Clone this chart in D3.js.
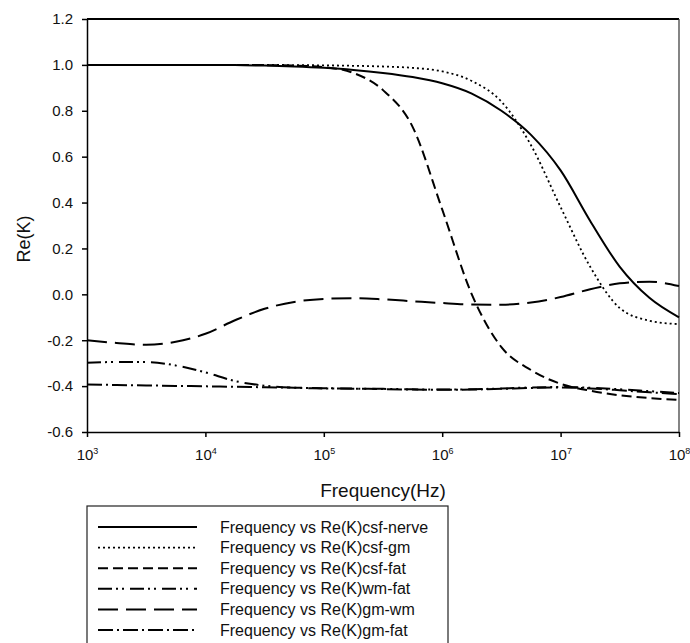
<!DOCTYPE html>
<html>
<head>
<meta charset="utf-8">
<script src="https://cdn.jsdelivr.net/npm/d3@7"></script>
<style>
  body { margin: 0; background: #fff; }
  svg { font-family: "Liberation Sans", Arial, sans-serif; }
  .axis path, .axis line { stroke: #000; stroke-width: 1.5; }
  .curve { fill: none; stroke: #000; }
</style>
</head>
<body>
<script>
// log10 of frequency (Hz) where each curve was read
const logFreq = [3, 3.25, 3.5, 3.75, 4, 4.25, 4.5, 4.75, 5, 5.25, 5.5, 5.75, 6, 6.25, 6.5, 6.75, 7, 7.25, 7.5, 7.75, 8];

const csfNerve = [1.0, 1.0, 1.0, 1.0, 1.0, 0.999, 0.997, 0.993, 0.987, 0.978, 0.965, 0.947, 0.92, 0.875, 0.80, 0.695, 0.54, 0.32, 0.12, -0.015, -0.10];
const csfGm    = [1.0, 1.0, 1.0, 1.0, 1.0, 1.0, 1.0, 0.999, 0.998, 0.996, 0.993, 0.987, 0.972, 0.93, 0.84, 0.65, 0.38, 0.12, -0.06, -0.115, -0.13];
const csfFat   = [1.0, 1.0, 1.0, 1.0, 1.0, 1.0, 0.999, 0.997, 0.99, 0.965, 0.89, 0.73, 0.37, 0.0, -0.23, -0.33, -0.39, -0.42, -0.44, -0.452, -0.46];
const wmFat    = [-0.298, -0.295, -0.295, -0.31, -0.34, -0.378, -0.398, -0.407, -0.41, -0.411, -0.412, -0.414, -0.415, -0.414, -0.41, -0.406, -0.404, -0.407, -0.414, -0.422, -0.43];
const gmWm     = [-0.20, -0.212, -0.22, -0.207, -0.172, -0.113, -0.063, -0.033, -0.02, -0.017, -0.022, -0.03, -0.038, -0.044, -0.045, -0.036, -0.012, 0.022, 0.048, 0.055, 0.036];
const gmFat    = [-0.393, -0.395, -0.397, -0.399, -0.401, -0.403, -0.405, -0.407, -0.409, -0.411, -0.413, -0.415, -0.416, -0.415, -0.412, -0.408, -0.406, -0.41, -0.418, -0.427, -0.435];

const seriesNames = ["Frequency vs Re(K)csf-nerve", "Frequency vs Re(K)csf-gm", "Frequency vs Re(K)csf-fat",
                     "Frequency vs Re(K)wm-fat", "Frequency vs Re(K)gm-wm", "Frequency vs Re(K)gm-fat"];
const seriesValues = [csfNerve, csfGm, csfFat, wmFat, gmWm, gmFat];

const xTickExps = [3, 4, 5, 6, 7, 8];
const yTicks = [-0.6, -0.4, -0.2, 0.0, 0.2, 0.4, 0.6, 0.8, 1.0, 1.2];

// line styles per series
const styles = [
  {w: 2, dash: null},
  {w: 1.8, dash: "2,3"},
  {w: 2, dash: "10,5"},
  {w: 2, dash: "14,4,2,4,2,6"},
  {w: 2, dash: "20,8"},
  {w: 2, dash: "15,4,2,4"}
];

const W = 690, H = 643;
const plot = {left: 87, right: 679, top: 19, bottom: 432};

const svg = d3.select("body").append("svg")
  .attr("width", W)
  .attr("height", H);

const xScale = d3.scaleLog()
  .domain([1e3, 1e8])
  .range([plot.left, plot.right]);

const yScale = d3.scaleLinear()
  .domain([-0.6, 1.2])
  .range([plot.bottom, plot.top]);

// frame (top + right)
svg.append("line")
  .attr("x1", plot.left).attr("x2", plot.right)
  .attr("y1", plot.top).attr("y2", plot.top)
  .attr("stroke", "#000").attr("stroke-width", 2);
svg.append("line")
  .attr("x1", plot.right).attr("x2", plot.right)
  .attr("y1", plot.top).attr("y2", plot.bottom)
  .attr("stroke", "#333").attr("stroke-width", 1.2);

// curves
const line = d3.line()
  .x(d => xScale(Math.pow(10, d[0])))
  .y(d => yScale(d[1]))
  .curve(d3.curveMonotoneX);

seriesValues.forEach((vals, i) => {
  const pts = logFreq.map((e, j) => [e, vals[j]]);
  svg.append("path")
    .datum(pts)
    .attr("class", "curve")
    .attr("stroke-width", styles[i].w)
    .attr("stroke-dasharray", styles[i].dash)
    .attr("d", line);
});

// y axis
const yAxis = d3.axisLeft(yScale)
  .tickValues(yTicks)
  .tickFormat(d3.format(".1f"))
  .tickSize(5)
  .tickSizeOuter(0)
  .tickPadding(9);

const gY = svg.append("g")
  .attr("class", "axis")
  .attr("transform", "translate(" + plot.left + ",0)")
  .call(yAxis);
gY.selectAll("text")
  .attr("font-size", 15)
  .attr("fill", "#111")
  .text(d => d3.format(".1f")(d).replace("−", "-"));

// x axis
const xAxis = d3.axisBottom(xScale)
  .tickValues(xTickExps.map(e => Math.pow(10, e)))
  .tickFormat("")
  .tickSize(5)
  .tickSizeOuter(0)
  .tickPadding(12);

const gX = svg.append("g")
  .attr("class", "axis")
  .attr("transform", "translate(0," + plot.bottom + ")")
  .call(xAxis);
gX.selectAll(".tick text").each(function(d) {
  const t = d3.select(this)
    .attr("font-size", 15)
    .attr("fill", "#111");
  t.text("10");
  t.append("tspan")
    .attr("font-size", 9)
    .attr("dy", "-0.6em")
    .text(Math.round(Math.log10(d)));
});

// axis titles
svg.append("text")
  .attr("x", (plot.left + plot.right) / 2)
  .attr("y", 497)
  .attr("text-anchor", "middle")
  .attr("font-size", 19)
  .attr("fill", "#111")
  .text("Frequency(Hz)");

svg.append("text")
  .attr("transform", "translate(30,239) rotate(-90)")
  .attr("text-anchor", "middle")
  .attr("font-size", 18)
  .attr("fill", "#111")
  .text("Re(K)");

// legend
const legende = svg.append("g").attr("class", "legende");
legende.append("rect")
  .attr("x", 87).attr("y", 506)
  .attr("width", 361).attr("height", 170)
  .attr("fill", "none")
  .attr("stroke", "#222")
  .attr("stroke-width", 1.2);

seriesNames.forEach((name, i) => {
  const y = 527 + i * 20.6;
  legende.append("line")
    .attr("x1", 98).attr("x2", 197)
    .attr("y1", y).attr("y2", y)
    .attr("stroke", "#000")
    .attr("stroke-width", styles[i].w)
    .attr("stroke-dasharray", styles[i].dash);
  legende.append("text")
    .attr("x", 220).attr("y", y)
    .attr("dy", "0.35em")
    .attr("font-size", 16)
    .attr("fill", "#111")
    .text(name);
});
</script>
</body>
</html>
